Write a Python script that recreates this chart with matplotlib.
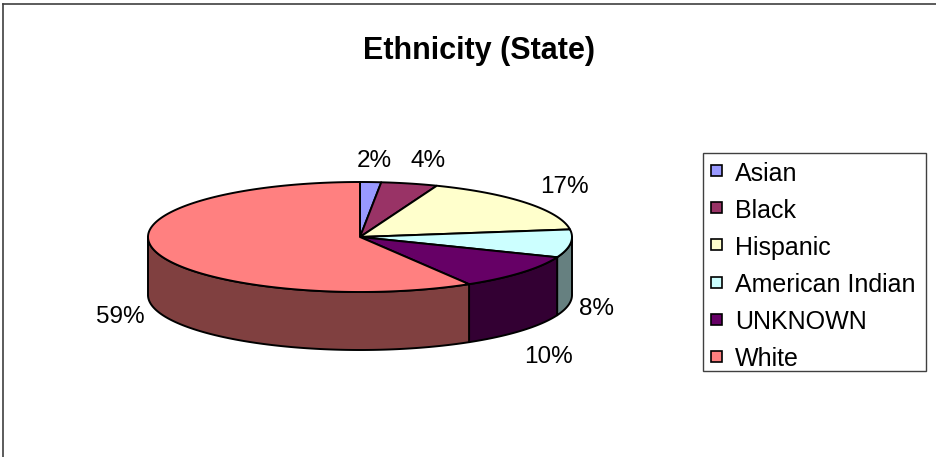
import matplotlib
matplotlib.use("Agg")
import matplotlib.pyplot as plt
import matplotlib.colors as mcolors
from matplotlib.patches import Polygon, Rectangle
import numpy as np

plt.rcParams['font.family'] = ['Liberation Sans', 'DejaVu Sans']

# ethnicity shares, clockwise from 12 o'clock
CATEGORIES = ["Asian", "Black", "Hispanic", "American Indian", "UNKNOWN", "White"]
SHARES = [1.6, 4.3, 16.9, 8.2, 10.4, 58.6]
COLORS = ["#9999FF", "#993366", "#FFFFCC", "#CCFFFF", "#660066", "#FF8080"]

# where each percentage label sits (pixel coords, baseline)
LABEL_XY = [(374, 167), (428, 167), (564, 193), (597, 315), (549, 363), (120, 323)]

W, H = 937, 457
CX, CY = 360, 237      # centre of the top face
RX, RY = 212, 55       # ellipse radii
DEPTH = 58             # thickness of the disc


def ellipse_pts(t0, t1, drop=0.0):
    """Points along the ellipse between angles t0..t1 (degrees, clockwise from top)."""
    t = np.radians(np.linspace(t0, t1, max(int(abs(t1 - t0)) * 2, 2)))
    return np.column_stack([CX + RX * np.sin(t), CY - RY * np.cos(t) + drop])


def darker(c, f=0.5):
    return tuple(v * f for v in mcolors.to_rgb(c))


fig = plt.figure(figsize=(W / 100, H / 100), dpi=100)
ax = fig.add_axes([0, 0, 1, 1])
ax.set_xlim(0, W)
ax.set_ylim(H, 0)
ax.axis("off")

# chart frame (only the left and top edges fall inside the image)
ax.plot([3.5, 3.5], [H + 5, 3.5], color="#404040", lw=1.2)
ax.plot([3.5, W + 5], [3.5, 3.5], color="#404040", lw=1.2)

ax.text(479, 59.5, "Ethnicity (State)", ha="center", va="baseline",
        fontsize=22, fontweight="bold")

total = sum(SHARES)
edges = np.concatenate([[0], np.cumsum(SHARES) / total * 360])

# side walls: only the front half (90..270 deg) is visible
for i, col in enumerate(COLORS):
    a, b = max(edges[i], 90), min(edges[i + 1], 270)
    if a >= b:
        continue
    top = ellipse_pts(a, b)
    bottom = ellipse_pts(a, b, DEPTH)[::-1]
    ax.add_patch(Polygon(np.vstack([top, bottom]), closed=True,
                         facecolor=darker(col), edgecolor="black", lw=1.4,
                         joinstyle="round"))

# top face wedges
for i, col in enumerate(COLORS):
    pts = np.vstack([[CX, CY], ellipse_pts(edges[i], edges[i + 1])])
    ax.add_patch(Polygon(pts, closed=True, facecolor=col, edgecolor="black",
                         lw=1.4, joinstyle="round"))

# percentage labels
pct = [round(s / total * 100) for s in SHARES]
for p, (x, y) in zip(pct, LABEL_XY):
    ax.text(x, y, f"{p}%", ha="center", va="baseline", fontsize=17.5)

# legend
ax.add_patch(Rectangle((703.5, 152.5), 223, 218, facecolor="white",
                       edgecolor="#404040", lw=1.0))
for i, (name, col) in enumerate(zip(CATEGORIES, COLORS)):
    base = 180.7 + 37.1 * i
    ax.add_patch(Rectangle((711.5, base - 15.5), 11, 11, facecolor=col,
                           edgecolor="black", lw=1.2))
    ax.text(735, base, name, ha="left", va="baseline", fontsize=18)

fig.savefig("out.png", dpi=100)
